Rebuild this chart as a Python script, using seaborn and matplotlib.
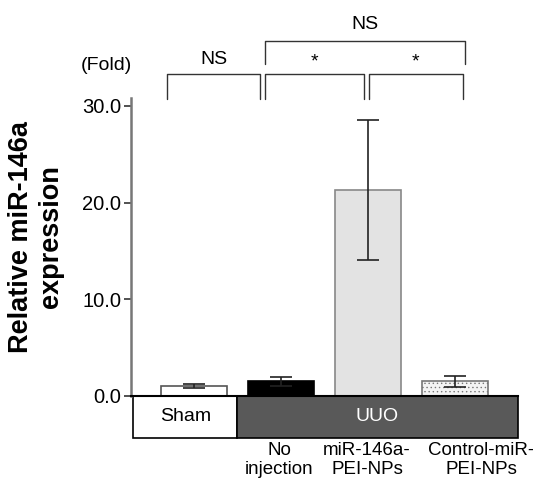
import matplotlib
matplotlib.use("Agg")
import matplotlib.pyplot as plt
import matplotlib.patches as mpatches
import matplotlib.ticker as mticker
import numpy as np
import pandas as pd
import seaborn as sns

groups = ["Sham", "No injection", "miR-146a-PEI-NPs", "Control-miR-PEI-NPs"]
cat_labels = ["No\ninjection", "miR-146a-\nPEI-NPs", "Control-miR-\nPEI-NPs"]
means = [1.0, 1.5, 21.3, 1.5]
errors = [0.2, 0.45, 7.2, 0.55]
fill_colors = ["white", "black", "#e3e3e3", "white"]
edge_colors = ["#555555", "black", "#888888", "#777777"]

df = pd.DataFrame({"group": groups, "value": means})

sns.set_theme(style="white")
plt.rcParams["font.family"] = ["Liberation Sans", "DejaVu Sans"]
plt.rcParams["text.color"] = "black"
plt.rcParams["axes.labelcolor"] = "black"
plt.rcParams["xtick.color"] = "black"
plt.rcParams["ytick.color"] = "black"
plt.rcParams["hatch.color"] = "#999999"
plt.rcParams["hatch.linewidth"] = 0.5

fig = plt.figure(figsize=(5.33, 4.86), dpi=100)
ax = fig.add_axes([0.2458, 0.1852, 0.726, 0.613])

sns.barplot(data=df, x="group", y="value", hue="group", palette=fill_colors,
            width=0.75, errorbar=None, legend=False, ax=ax, saturation=1)

for i, bar in enumerate(ax.patches):
    bar.set_edgecolor(edge_colors[i])
    bar.set_linewidth(1.2)
    if i == 3:
        bar.set_hatch("....")
        bar.set_facecolor("#f4f4f4")

ax.errorbar(range(4), means, yerr=errors, fmt="none", ecolor="#222222",
            elinewidth=1.2, capsize=8, capthick=1.2, zorder=5)

ax.set_xlim(-0.724, 3.724)
ax.set_ylim(0, 30.8)
ax.set_yticks([0, 10, 20, 30])
ax.yaxis.set_major_formatter(mticker.FormatStrFormatter("%.1f"))
ax.tick_params(axis="y", left=True, length=5, width=1.2, color="#333333",
               labelsize=14.5, pad=2)
ax.set_xticks([])
ax.set_xlabel("")
ax.set_ylabel("Relative miR-146a\nexpression", fontsize=19.5, fontweight="bold")
ax.yaxis.set_label_coords(-0.172, 0.535)

# category labels under the group box
label_x = [0.98, 1.99, 3.3]
for x, lab in zip(label_x, cat_labels):
    ax.annotate(lab, xy=(x, 0), xycoords=("data", "axes fraction"),
                xytext=(0, -33), textcoords="offset points", ha="center",
                va="top", fontsize=13.5, annotation_clip=False)

sns.despine(ax=ax)
ax.spines["left"].set_color("#777777")
ax.spines["left"].set_linewidth(1.8)
ax.spines["bottom"].set_color("black")
ax.spines["bottom"].set_linewidth(1.5)

# group boxes below the axis
box_h = 4.3
ax.add_patch(mpatches.Rectangle((-0.7, -box_h), 1.2, box_h, facecolor="white",
                                edgecolor="black", lw=1.2, clip_on=False))
ax.add_patch(mpatches.Rectangle((0.5, -box_h), 3.224, box_h, facecolor="#595959",
                                edgecolor="black", lw=1.2, clip_on=False))
ax.text(-0.1, -box_h / 2, "Sham", ha="center", va="center", fontsize=14, clip_on=False)
ax.text(2.11, -box_h / 2, "UUO", ha="center", va="center", fontsize=14,
        color="white", clip_on=False)

# significance brackets
def bracket(x0, x1, ytop, ybot, label, ytext):
    ax.plot([x0, x0, x1, x1], [ybot, ytop, ytop, ybot], color="#333333",
            lw=1.0, clip_on=False)
    ax.text((x0 + x1) / 2, ytext, label, ha="center", va="center",
            fontsize=14, clip_on=False)

bracket(-0.31, 0.76, 33.3, 30.7, "NS", 34.8)
bracket(0.82, 1.95, 33.3, 30.7, "*", 34.5)
bracket(2.01, 3.09, 33.3, 30.7, "*", 34.5)
bracket(0.82, 3.11, 36.7, 34.3, "NS", 38.4)
ax.text(-0.71, 34.2, "(Fold)", ha="right", va="center", fontsize=14, clip_on=False)

fig.savefig("out.png", dpi=100)
